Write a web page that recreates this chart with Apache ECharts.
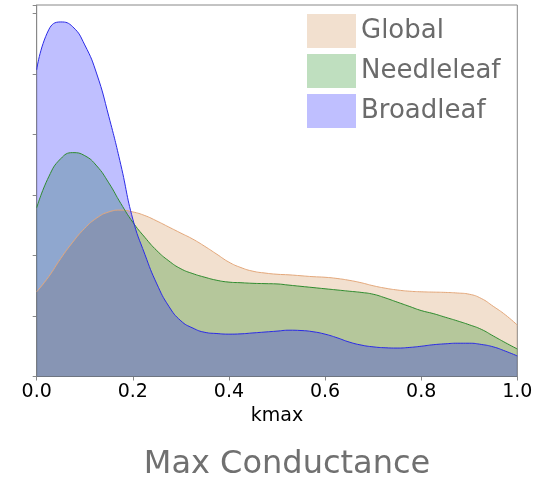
<!DOCTYPE html>
<html>
<head>
<meta charset="utf-8">
<script src="https://cdn.jsdelivr.net/npm/echarts@6/dist/echarts.min.js"></script>
<style>html,body{margin:0;padding:0;background:#fff;}#c{width:546px;height:480px;}</style>
</head>
<body>
<div id="c"></div>
<script>
var kmax = [0,0.025,0.05,0.075,0.1,0.125,0.15,0.175,0.2,0.225,0.25,0.275,0.3,0.325,0.35,0.375,0.4,0.425,0.45,0.475,0.5,0.525,0.55,0.575,0.6,0.625,0.65,0.675,0.7,0.725,0.75,0.775,0.8,0.825,0.85,0.875,0.9,0.925,0.95,0.975,1.0];
var globalDensity = [1.40,1.65,1.95,2.22,2.45,2.62,2.72,2.75,2.72,2.66,2.57,2.47,2.37,2.27,2.15,2.02,1.89,1.80,1.74,1.71,1.69,1.68,1.665,1.65,1.64,1.62,1.59,1.55,1.50,1.46,1.43,1.41,1.40,1.395,1.39,1.38,1.36,1.29,1.16,1.02,0.85];
var needleDensity = [2.79,3.30,3.60,3.70,3.65,3.48,3.20,2.86,2.55,2.30,2.08,1.91,1.78,1.70,1.64,1.59,1.56,1.55,1.54,1.535,1.53,1.51,1.49,1.47,1.45,1.43,1.41,1.39,1.36,1.30,1.23,1.16,1.09,1.04,0.98,0.92,0.855,0.78,0.67,0.56,0.455];
var broadDensity = [5.07,5.73,5.86,5.78,5.48,5.00,4.30,3.50,2.60,2.02,1.53,1.16,0.92,0.80,0.73,0.71,0.70,0.705,0.72,0.735,0.75,0.765,0.76,0.74,0.70,0.64,0.57,0.52,0.49,0.475,0.47,0.48,0.50,0.525,0.54,0.55,0.55,0.53,0.49,0.42,0.34];
var seriesNames = ['Global','Needleleaf','Broadleaf'];
var xTicks = ['0.0','0.2','0.4','0.6','0.8','1.0'];

function pairs(ys){ return kmax.map(function(x,i){ return [x, ys[i]]; }); }

var fills = ['rgba(205,133,63,0.25)','rgba(0,128,0,0.25)','rgba(0,0,255,0.25)'];
var lines = ['#e3a77a','#2e8b2e','#2a2ae6'];
var patch = ['#f2e0cf','#bfdfbf','#bfbfff'];
var dataSets = [globalDensity, needleDensity, broadDensity];

var chart = echarts.init(document.getElementById('c'), null, {renderer:'canvas'});
chart.setOption({
  animation:false,
  graphic:[{
    type:'text', x:287, y:465,
    style:{text:'Max Conductance', fontFamily:'DejaVu Sans', fontSize:32, fill:'#707070', textAlign:'center', textVerticalAlign:'middle'}
  }],
  legend:{
    data: seriesNames.map(function(n,i){ return {name:n, icon:'rect', itemStyle:{color:patch[i], borderWidth:0, opacity:1}}; }),
    orient:'vertical', left:307, top:14, padding:0, itemWidth:49, itemHeight:34, itemGap:6,
    textStyle:{fontFamily:'DejaVu Sans', fontSize:26, color:'#6b6b6b'},
    selectedMode:false
  },
  grid:{left:36.7, right:28.7, top:5, bottom:103.5, show:true, borderColor:'#888', borderWidth:1, backgroundColor:'transparent'},
  xAxis:{
    type:'value', min:0, max:1, interval:0.2,
    name:'kmax', nameLocation:'middle', nameGap:24,
    nameTextStyle:{fontFamily:'DejaVu Sans', fontSize:19, color:'#000'},
    axisLine:{show:true, lineStyle:{color:'#888'}},
    axisTick:{show:true, length:4, lineStyle:{color:'#888'}},
    splitLine:{show:false},
    axisLabel:{fontFamily:'DejaVu Sans', fontSize:19, color:'#000', margin:6,
      formatter:function(v){ return xTicks[Math.round(v/0.2)]; }}
  },
  yAxis:{
    type:'value', min:0, max:6.14, interval:1,
    axisLine:{show:true, lineStyle:{color:'#888'}},
    axisTick:{show:true, length:4, lineStyle:{color:'#888'}},
    axisLabel:{show:false},
    splitLine:{show:false}
  },
  series: seriesNames.map(function(n,i){
    return {
      name:n, type:'line', data:pairs(dataSets[i]), smooth:0.5, showSymbol:false, symbol:'none',
      lineStyle:{color:lines[i], width:1},
      itemStyle:{color:patch[i]},
      areaStyle:{color:fills[i], opacity:1, origin:'start'}
    };
  })
});
</script>
</body>
</html>
